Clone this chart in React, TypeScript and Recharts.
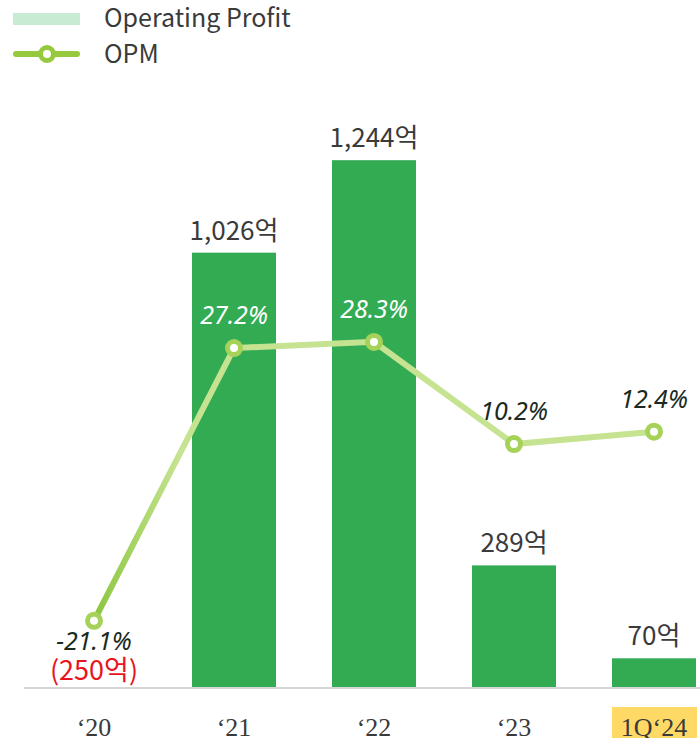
import { ComposedChart, Bar, Line, XAxis, YAxis, LabelList } from "recharts";

const years = ["‘20", "‘21", "‘22", "‘23", "1Q‘24"];
const profit = [-250, 1026, 1244, 289, 70];
const opm = [-21.1, 27.2, 28.3, 10.2, 12.4];

const data = years.map((year, i) => ({ year, profit: profit[i], opm: opm[i] }));

const BAR = "#33ab53";
const LABEL_FONT = "'Noto Sans CJK KR', 'Noto Sans', sans-serif";
const TICK_FONT = "'Liberation Serif', 'DejaVu Serif', serif";
// labels that sit over a green bar are drawn in white
const whiteOpmLabels = [false, true, true, false, false];

const ProfitLabel = (props: any) => {
  const { x, y, width, height, value } = props;
  const cx = x + width / 2;
  if (value < 0) {
    const base = Math.min(y, y + height);
    return (
      <text x={cx} y={base - 8} textAnchor="middle" fill="#e8141e" fontSize={27} fontFamily={LABEL_FONT}>
        ({Math.abs(value).toLocaleString()}억)
      </text>
    );
  }
  return (
    <text x={cx} y={y - 13} textAnchor="middle" fill="#3a3a3a" fontSize={26} fontFamily={LABEL_FONT}>
      {value.toLocaleString()}억
    </text>
  );
};

const OpmLabel = (props: any) => {
  const { x, y, value, index } = props;
  const below = value < 0;
  return (
    <text
      x={x}
      y={below ? y + 29 : y - 24}
      textAnchor="middle"
      fill={whiteOpmLabels[index] ? "#ffffff" : "#1a2a1e"}
      fontSize={25}
      fontStyle="italic"
      fontFamily="'Noto Sans', sans-serif"
    >
      {value.toFixed(1)}%
    </text>
  );
};

const OpmDot = (props: any) => {
  const { cx, cy } = props;
  return <circle cx={cx} cy={cy} r={6.5} fill="#fff" stroke="#a6d25a" strokeWidth={5} />;
};

const HiddenBar = (props: any) => {
  const { x, y, width, height, value, fill } = props;
  if (value < 0) return <g />;
  return <rect x={x} y={y} width={width} height={height} fill={fill} />;
};

const YearTick = (props: any) => {
  const { x, y, payload, index } = props;
  const last = index === years.length - 1;
  return (
    <g>
      {last && <rect x={x - 42} y={y + 11} width={85} height={40} fill="#ffd966" />}
      <text x={x} y={y + 40} textAnchor="middle" fill="#3a3a3a" fontSize={26} fontFamily={TICK_FONT}>
        {payload.value}
      </text>
    </g>
  );
};

const ChartLegend = () => (
  <svg width={340} height={80} style={{ position: "absolute", left: 0, top: 0 }}>
    <rect x={13} y={13} width={67} height={12} fill="#c8ebd3" />
    <text x={104} y={27} fill="#3a3a3a" fontSize={25} fontFamily={LABEL_FONT}>
      Operating Profit
    </text>
    <line x1={16} y1={54} x2={77} y2={54} stroke="#96c93d" strokeWidth={6} strokeLinecap="round" />
    <circle cx={47} cy={54} r={6.5} fill="#fff" stroke="#96c93d" strokeWidth={5} />
    <text x={104} y={63} fill="#3a3a3a" fontSize={25} fontFamily={LABEL_FONT}>
      OPM
    </text>
  </svg>
);

export default function App() {
  return (
    <div style={{ position: "relative", width: 700, height: 738, overflow: "hidden" }}>
      <style>{"body{margin:0}"}</style>
      <ComposedChart width={724} height={738} data={data} margin={{ top: 94, right: 0, left: 24, bottom: 0 }} barCategoryGap="20%">
        <defs>
          <linearGradient id="opmStroke" x1="0" y1="0" x2="1" y2="0">
            <stop offset="0" stopColor="#8cc63f" />
            <stop offset="0.15" stopColor="#c5e391" />
            <stop offset="1" stopColor="#c5e391" />
          </linearGradient>
        </defs>
        <XAxis
          dataKey="year"
          height={50}
          axisLine={{ stroke: "#d6d6d6", strokeWidth: 2 }}
          tickLine={false}
          tick={<YearTick />}
          interval={0}
        />
        <YAxis yAxisId="left" hide domain={[0, 1400]} allowDataOverflow />
        <YAxis yAxisId="right" orientation="right" hide domain={[-33, 72.2]} allowDataOverflow />
        <Bar yAxisId="left" dataKey="profit" fill={BAR} shape={<HiddenBar />} isAnimationActive={false}>
          <LabelList dataKey="profit" content={<ProfitLabel />} />
        </Bar>
        <Line
          yAxisId="right"
          dataKey="opm"
          type="linear"
          stroke="url(#opmStroke)"
          strokeWidth={6}
          dot={<OpmDot />}
          activeDot={false}
          isAnimationActive={false}
        >
          <LabelList dataKey="opm" content={<OpmLabel />} />
        </Line>
      </ComposedChart>
      <ChartLegend />
    </div>
  );
}
